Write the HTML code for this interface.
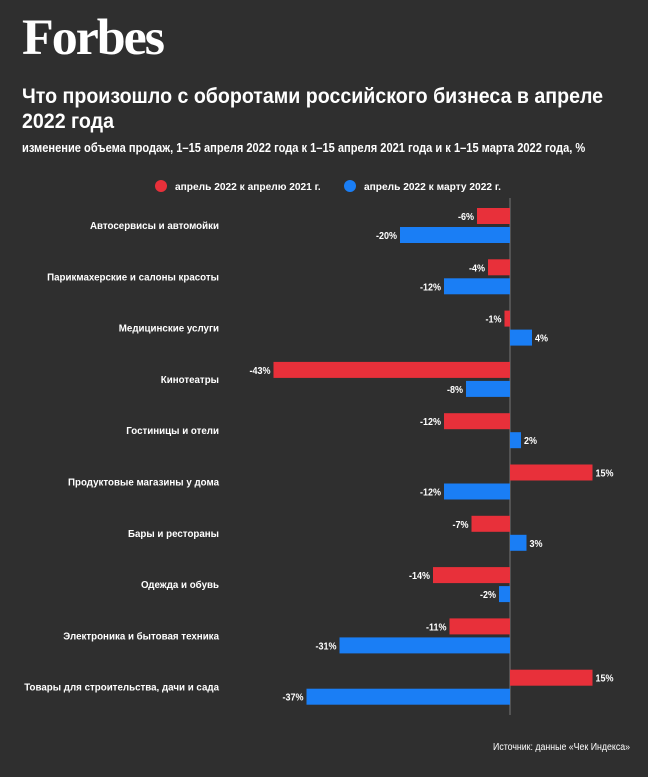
<!DOCTYPE html>
<html><head><meta charset="utf-8">
<style>
body{margin:0;width:648px;height:777px;background:#2f2f2f;overflow:hidden;font-family:"Liberation Sans",sans-serif;color:#fff}
.logo{position:absolute;left:22px;top:9px;font-family:"Liberation Serif",serif;font-weight:bold;font-size:51px;letter-spacing:-2px;transform:scaleX(1.02);transform-origin:left}
.t{position:absolute;left:22px;top:84px;font-size:21px;font-weight:bold;line-height:25px;width:700px;transform:scaleX(0.933);transform-origin:left top}
.s{position:absolute;left:22px;top:141px;font-size:12.5px;font-weight:bold;white-space:nowrap;transform:scaleX(0.887);transform-origin:left top}
</style></head><body>
<div class="logo">Forbes</div>
<div class="t">Что произошло с оборотами российского бизнеса в апреле<br>2022 года</div>
<div class="s">изменение объема продаж, 1–15 апреля 2022 года к 1–15 апреля 2021 года и к 1–15 марта 2022 года, %</div>
<svg id="c" width="648" height="777" style="position:absolute;left:0;top:0"></svg>
<script>
const categories=["Автосервисы и автомойки","Парикмахерские и салоны красоты","Медицинские услуги","Кинотеатры","Гостиницы и отели","Продуктовые магазины у дома","Бары и рестораны","Одежда и обувь","Электроника и бытовая техника","Товары для строительства, дачи и сада"];
const aprVsApr=[-6,-4,-1,-43,-12,15,-7,-14,-11,15];
const aprVsMar=[-20,-12,4,-8,2,-12,3,-2,-31,-37];
const seriesNames=["апрель 2022 к апрелю 2021 г.","апрель 2022 к марту 2022 г."];
const colors=["#e8303a","#1a7ef5"];
const svg=document.getElementById('c');const NS="http://www.w3.org/2000/svg";
const x0=510,k=5.5,top0=208,step=51.3,bh=16;
const x=v=>x0+v*k;
function mk(t,a){const e=document.createElementNS(NS,t);for(const q in a)e.setAttribute(q,a[q]);svg.appendChild(e);return e;}
function txt(px,py,sx,a){return mk('text',Object.assign({x:0,y:0,transform:`translate(${px},${py}) scale(${sx},1)`},a));}
const lg=[[161,191],[350,336]];
seriesNames.forEach((n,i)=>{
 const c=mk('circle',{cx:lg[i][0],cy:186,r:6,fill:colors[i]});
 
 
 const t=txt(lg[i][0]+14,190,0.97,{fill:'#fff','font-size':'10.5','font-weight':'bold'});t.textContent=n;
 
 
});
const ax=mk('line',{x1:x0,x2:x0,y1:198,y2:715,stroke:'#777','stroke-width':1});


categories.forEach((cat,i)=>{
 const y=top0+i*step;
 const l=txt(219,y+21,0.93,{'text-anchor':'end',fill:'#fff','font-size':'10.5','font-weight':'bold'});l.textContent=cat;
 
 
 [aprVsApr[i],aprVsMar[i]].forEach((v,s)=>{
  const by=y+s*19;
  const r=mk('rect',{x:Math.min(x(v),x0),y:by,width:Math.abs(x(v)-x0),height:bh,fill:colors[s]});
  
  
  const t=txt(v<0?x(v)-3:x(v)+3,by+12,0.9,{'text-anchor':v<0?'end':'start',fill:'#fff','font-size':'10','font-weight':'bold'});
  t.textContent=v+'%';
  
  
 });
});
const src=txt(630,750,0.88,{'text-anchor':'end',fill:'#fff','font-size':'10'});src.textContent='Источник: данные «Чек Индекса»';


</script>
</body></html>
